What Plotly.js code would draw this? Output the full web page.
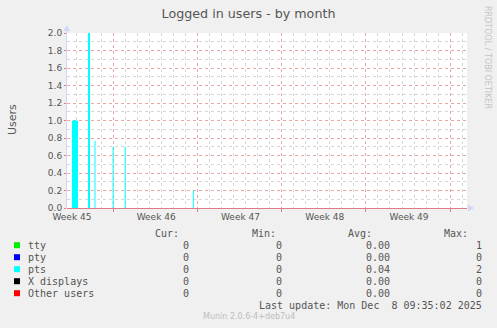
<!DOCTYPE html>
<html>
<head>
<meta charset="utf-8">
<script src="https://cdn.plot.ly/plotly-3.0.1.min.js"></script>
<style>html,body{margin:0;padding:0;background:#f0f0f0;}#chart{width:497px;height:328px;}</style>
</head>
<body>
<div id="chart"></div>
<script>
// ---- data ----
const rangeStart = '2025-11-05 04:10';
const rangeEnd = '2025-12-08 09:35';
const times = ['2025-11-05 04:00','2025-11-05 14:00','2025-11-06 02:00','2025-11-06 22:00','2025-11-07 02:00',
  '2025-11-07 11:00','2025-11-07 13:00','2025-11-08 23:00','2025-11-09 01:00','2025-11-09 23:00',
  '2025-11-10 01:00','2025-11-15 15:00','2025-11-15 17:00','2025-12-08 09:35'];
const ttyValues   = [0,0,0,0,0,0,0,0,0,0,0,0,0,0];
const ptyValues   = [0,0,0,0,0,0,0,0,0,0,0,0,0,0];
const ptsValues   = [0,1,0,2,0,0.77,0,0.7,0,0.7,0,0.2,0,0];
const xValues     = [0,0,0,0,0,0,0,0,0,0,0,0,0,0];
const otherValues = [0,0,0,0,0,0,0,0,0,0,0,0,0,0];

const weekBoundaries = ['2025-11-09','2025-11-16','2025-11-23','2025-11-30','2025-12-07'];
const weekLabelTimes = ['2025-11-05 14:00','2025-11-12 14:00','2025-11-19 14:00','2025-11-26 14:00','2025-12-03 14:00'];
const weekLabels = ['Week 45','Week 46','Week 47','Week 48','Week 49'];

const seriesNames  = ['tty','pty','pts','X displays','Other users'];
const seriesColors = ['#00ee00','#0000ff','#00ffff','#000000','#ff0000'];
const curVals = ['0','0','0','0','0'];
const minVals = ['0','0','0','0','0'];
const avgVals = ['0.00','0.00','0.04','0.00','0.00'];
const maxVals = ['1','0','2','0','0'];

// ---- layout helpers (pixel -> paper) ----
const L = 67, R = 467, T = 33, B = 208;
const PX = x => (x - L) / (R - L);
const PY = y => (B - y) / (B - T);

const allSeries = [ttyValues, ptyValues, ptsValues, xValues, otherValues];
const traces = allSeries.map((vals, i) => ({
  type: 'scatter', mode: 'lines', x: times, y: vals,
  line: {shape: 'hv', width: 0, color: seriesColors[i]},
  fill: 'tozeroy', fillcolor: seriesColors[i],
  name: seriesNames[i], showlegend: false, hoverinfo: 'skip'
}));
traces.push({type: 'scatter', mode: 'lines', x: [], y: [], xaxis: 'x2', yaxis: 'y', showlegend: false});

const mono = 'DejaVu Sans Mono';
const sans = 'DejaVu Sans';
const txtCol = '#555555';
const ann = [];
function addText(text, x, y, anchor, opts) {
  ann.push(Object.assign({text: text, xref: 'paper', yref: 'paper', x: PX(x), y: PY(y),
    xanchor: anchor, yanchor: 'middle', showarrow: false, borderpad: 0,
    font: {family: mono, size: 10, color: txtCol}}, opts || {}));
}
// header
addText('Cur:', 180, 233.7, 'right');
addText('Min:', 277, 233.7, 'right');
addText('Avg:', 373, 233.7, 'right');
addText('Max:', 469, 233.7, 'right');
const shapes = [];
const rowY = [245.7, 257.7, 269.7, 281.7, 293.7];
seriesNames.forEach((n, i) => {
  addText(n, 27, rowY[i], 'left');
  addText(curVals[i], 190, rowY[i], 'right');
  addText(minVals[i], 283, rowY[i], 'right');
  addText(avgVals[i], 391, rowY[i], 'right');
  addText(maxVals[i], 483, rowY[i], 'right');
  shapes.push({type: 'rect', xref: 'paper', yref: 'paper',
    x0: PX(14), x1: PX(20), y0: PY(rowY[i] - 3.5), y1: PY(rowY[i] + 2.5),
    fillcolor: seriesColors[i], line: {width: 0}});
});
addText('Last update: Mon Dec  8 09:35:02 2025', 483, 305.7, 'right');
addText('Munin 2.0.6-4+deb7u4', 249, 316.7, 'center', {font: {family: sans, size: 8, color: '#bdbdbd'}});
addText('RRDTOOL / TOBI OETIKER', 488, 57, 'center', {textangle: 90, font: {family: sans, size: 8, color: '#c4c4c4'}});
addText('Users', 12, 119, 'center', {textangle: -90, font: {family: sans, size: 11, color: txtCol}});

// axis decorations
const axisBlue = '#cfd6f8';
shapes.push({type: 'line', xref: 'paper', yref: 'paper', x0: PX(66.5), x1: PX(66.5), y0: PY(208), y1: PY(29),
  line: {color: axisBlue, width: 1}});
shapes.push({type: 'path', xref: 'paper', yref: 'paper',
  path: `M ${PX(63.5)},${PY(31)} L ${PX(70)},${PY(31)} L ${PX(66.75)},${PY(25)} Z`,
  fillcolor: axisBlue, line: {width: 0}});
shapes.push({type: 'path', xref: 'paper', yref: 'paper',
  path: `M ${PX(468)},${PY(204.5)} L ${PX(468)},${PY(211.5)} L ${PX(474)},${PY(208)} Z`,
  fillcolor: axisBlue, line: {width: 0}});

const majorGrid = '#e8a6a6';
const minorGrid = '#d6d6d6';
const layout = {
  width: 497, height: 328,
  margin: {l: L, r: 497 - R, t: T, b: 328 - B, pad: 0},
  paper_bgcolor: '#f0f0f0', plot_bgcolor: '#ffffff',
  showlegend: false,
  title: {text: 'Logged in users - by month', x: 0.5, xref: 'container', y: 1 - 14/328, yref: 'container',
    xanchor: 'center', yanchor: 'middle', font: {family: sans, size: 12.7, color: txtCol}},
  xaxis: {type: 'date', range: [rangeStart, rangeEnd], tickmode: 'array', tickvals: weekBoundaries,
    showticklabels: false, showgrid: true, gridcolor: majorGrid, griddash: 'dot', gridwidth: 1,
    ticks: 'outside', ticklen: 3, tickcolor: '#e07a86',
    minor: {tickmode: 'linear', tick0: '2025-11-09', dtick: 86400000, showgrid: true, gridcolor: minorGrid, griddash: 'dot', ticks: ''},
    showline: true, linecolor: '#e07a86', linewidth: 1, zeroline: false, fixedrange: true},
  xaxis2: {type: 'date', overlaying: 'x', anchor: 'y', side: 'bottom', range: [rangeStart, rangeEnd],
    tickmode: 'array', tickvals: weekLabelTimes, ticktext: weekLabels, showgrid: false, showline: false,
    ticks: '', ticklabelstandoff: 2, tickfont: {family: sans, size: 9, color: txtCol}, zeroline: false},
  yaxis: {range: [0, 2.0], tickmode: 'linear', tick0: 0, dtick: 0.2, tickformat: '.1f',
    showgrid: true, gridcolor: majorGrid, griddash: 'dot', gridwidth: 1,
    ticks: 'outside', ticklen: 2, tickcolor: '#e07a86',
    minor: {tickmode: 'linear', tick0: 0, dtick: 0.1, showgrid: true, gridcolor: minorGrid, griddash: 'dot', ticks: ''},
    tickfont: {family: sans, size: 9, color: txtCol}, zeroline: false, showline: false, fixedrange: true},
  annotations: ann,
  shapes: shapes
};
Plotly.newPlot('chart', traces, layout, {staticPlot: true, displayModeBar: false});
</script>
</body>
</html>
